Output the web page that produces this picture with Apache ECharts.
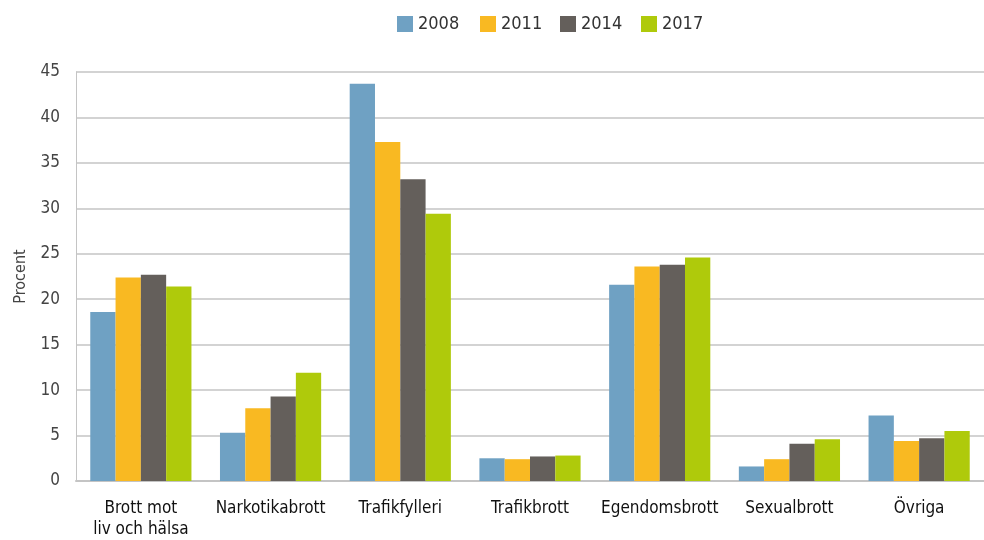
<!DOCTYPE html>
<html>
<head>
<meta charset="utf-8">
<script src="https://cdn.jsdelivr.net/npm/echarts@6/dist/echarts.min.js"></script>
<style>html,body{margin:0;padding:0;background:#fff}#c{width:984px;height:540px}</style>
</head>
<body>
<div id="c"></div>
<script>
const categories = ['Brott mot\nliv och hälsa', 'Narkotikabrott', 'Trafikfylleri', 'Trafikbrott', 'Egendomsbrott', 'Sexualbrott', 'Övriga'];
const seriesNames = ['2008', '2011', '2014', '2017'];
const v2008 = [18.6, 5.3, 43.7, 2.5, 21.6, 1.6, 7.2];
const v2011 = [22.4, 8.0, 37.3, 2.4, 23.6, 2.4, 4.4];
const v2014 = [22.7, 9.3, 33.2, 2.7, 23.8, 4.1, 4.7];
const v2017 = [21.4, 11.9, 29.4, 2.8, 24.6, 4.6, 5.5];
const colors = ['#6fa1c3', '#f9b922', '#645f5b', '#afca0b'];
const legendLefts = [397, 480, 560, 641];
const font = '"DejaVu Sans Condensed", "Liberation Sans Narrow", sans-serif';
const values = [v2008, v2011, v2014, v2017];
const chart = echarts.init(document.getElementById('c'));
chart.setOption({
  animation: false,
  color: colors,
  legend: seriesNames.map((n, i) => ({
    top: 15, left: legendLefts[i], itemWidth: 16, itemHeight: 16, itemGap: 5,
    icon: 'rect', padding: 0,
    textStyle: { fontFamily: font, fontSize: 18, color: '#333' },
    data: [n]
  })),
  grid: { left: 76, right: 0, top: 72, bottom: 59 },
  xAxis: {
    type: 'category', data: categories,
    axisLine: { lineStyle: { color: '#c4c4c4', width: 2 } },
    axisTick: { show: false },
    axisLabel: { fontFamily: font, fontSize: 17, color: '#111', margin: 17, lineHeight: 21, interval: 0 }
  },
  yAxis: {
    type: 'value', min: 0, max: 45, interval: 5,
    name: 'Procent', nameLocation: 'middle', nameGap: 47, nameRotate: 90,
    nameTextStyle: { fontFamily: font, fontSize: 16, color: '#444' },
    axisLine: { show: true, lineStyle: { color: '#c4c4c4', width: 1 } },
    axisTick: { show: false },
    axisLabel: { fontFamily: font, fontSize: 17, color: '#444', margin: 16 },
    splitLine: { lineStyle: { color: '#c4c4c4', width: 1.5 } }
  },
  series: seriesNames.map((n, i) => ({
    name: n, type: 'bar', data: values[i],
    barWidth: '19.5%', barGap: '0%',
    itemStyle: { color: colors[i] }
  }))
});
</script>
</body>
</html>
